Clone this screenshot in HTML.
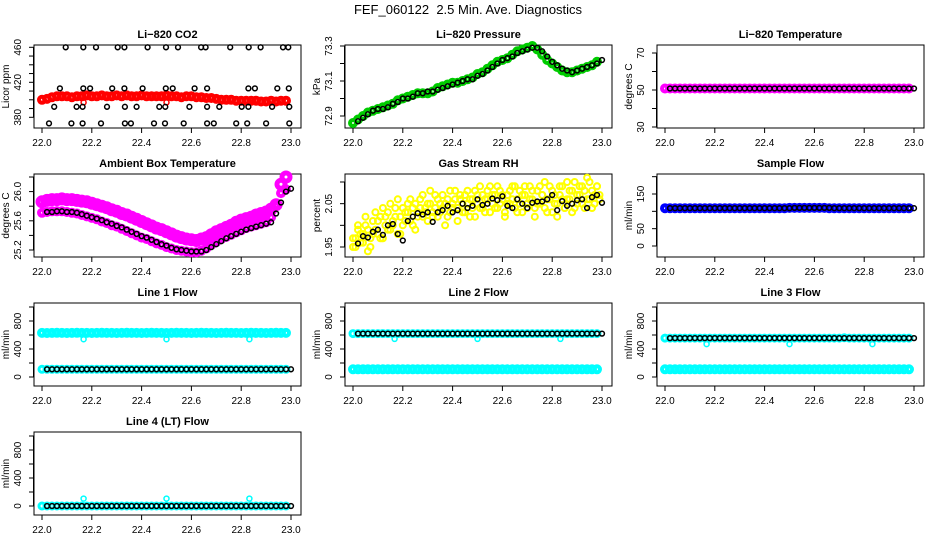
<!DOCTYPE html>
<html><head><meta charset="utf-8">
<style>
html,body{margin:0;padding:0;background:#fff;}
svg{display:block;font-family:"Liberation Sans",sans-serif;}
.t{font-size:11px;font-weight:bold;text-anchor:middle;}
.tk{font-size:10px;text-anchor:middle;}
</style></head>
<body>
<svg id="chart" width="936" height="540" viewBox="0 0 936 540">
<text x="468" y="14" style="font-size:13px;text-anchor:middle">FEF_060122&#160; 2.5 Min. Ave. Diagnostics</text>
</svg>
<script>
// ---- time categories ----
const colorTimes = [22.00,22.02,22.04,22.06,22.08,22.10,22.12,22.14,22.16,22.18,22.20,22.22,22.24,22.26,22.28,22.30,22.32,22.34,22.36,22.38,22.40,22.42,22.44,22.46,22.48,22.50,22.52,22.54,22.56,22.58,22.60,22.62,22.64,22.66,22.68,22.70,22.72,22.74,22.76,22.78,22.80,22.82,22.84,22.86,22.88,22.90,22.92,22.94,22.96,22.98];
const blackTimes = [22.02,22.04,22.06,22.08,22.10,22.12,22.14,22.16,22.18,22.20,22.22,22.24,22.26,22.28,22.30,22.32,22.34,22.36,22.38,22.40,22.42,22.44,22.46,22.48,22.50,22.52,22.54,22.56,22.58,22.60,22.62,22.64,22.66,22.68,22.70,22.72,22.74,22.76,22.78,22.80,22.82,22.84,22.86,22.88,22.90,22.92,22.94,22.96,22.98,23.00];
const outlierTimes = [22.167,22.5,22.833];
const xTicks = [22.0,22.2,22.4,22.6,22.8,23.0];
const xTickLabels = ["22.0","22.2","22.4","22.6","22.8","23.0"];
const yhTimes = [22.00,22.01,22.02,22.03,22.04,22.05,22.06,22.07,22.08,22.09,22.10,22.11,22.12,22.13,22.14,22.15,22.16,22.17,22.18,22.19,22.20,22.21,22.22,22.23,22.24,22.25,22.26,22.27,22.28,22.29,22.30,22.31,22.32,22.33,22.34,22.35,22.36,22.37,22.38,22.39,22.40,22.41,22.42,22.43,22.44,22.45,22.46,22.47,22.48,22.49,22.50,22.51,22.52,22.53,22.54,22.55,22.56,22.57,22.58,22.59,22.60,22.61,22.62,22.63,22.64,22.65,22.66,22.67,22.68,22.69,22.70,22.71,22.72,22.73,22.74,22.75,22.76,22.77,22.78,22.79,22.80,22.81,22.82,22.83,22.84,22.85,22.86,22.87,22.88,22.89,22.90,22.91,22.92,22.93,22.94,22.95,22.96,22.97,22.98,22.99];

// ---- CO2 ----
const co2Red = [400,401,403,404,404,404,403,404,404,405,404,404,405,404,404,405,404,405,404,404,405,404,404,404,404,405,404,404,403,404,404,403,403,402,402,401,400,400,400,399,399,399,399,399,398,398,399,398,399,399];
const co2RedOut = [397,397,397];
const co2BlackTimes = [22.095,22.166,22.217,22.304,22.331,22.424,22.498,22.546,22.639,22.657,22.756,22.830,22.878,22.968,22.989,
 22.072,22.166,22.193,22.282,22.331,22.404,22.497,22.525,22.613,22.663,22.829,22.855,22.945,22.991,
 22.049,22.139,22.163,22.261,22.333,22.380,22.471,22.495,22.592,22.663,22.712,22.802,22.829,22.924,22.993,
 22.028,22.118,22.163,22.237,22.333,22.357,22.450,22.494,22.569,22.663,22.690,22.780,22.824,22.900,22.993];
const co2BlackVals = [460,460,460,460,460,460,460,460,460,460,460,460,460,460,460,
 413,413,413,413,413,413,413,413,413,413,413,413,413,413,
 392,392,392,392,392,392,392,392,392,392,392,392,392,392,392,
 373,373,373,373,373,373,373,373,373,373,373,373,373,373,373];

// ---- Pressure ----
const presGreen = [72.86,72.88,72.90,72.92,72.93,72.94,72.95,72.96,72.97,72.99,73.00,73.01,73.02,73.03,73.03,73.03,73.04,73.06,73.07,73.08,73.09,73.09,73.10,73.11,73.12,73.14,73.15,73.17,73.19,73.21,73.22,73.23,73.25,73.27,73.28,73.29,73.30,73.28,73.25,73.22,73.20,73.18,73.16,73.15,73.15,73.16,73.17,73.18,73.19,73.21];
const presBlack = [72.87,72.89,72.91,72.93,72.94,72.94,72.95,72.97,72.98,73.00,73.00,73.01,73.03,73.03,73.04,73.04,73.05,73.06,73.07,73.08,73.09,73.10,73.11,73.11,73.13,73.14,73.16,73.18,73.20,73.22,73.23,73.24,73.26,73.27,73.28,73.29,73.29,73.27,73.24,73.21,73.19,73.17,73.16,73.15,73.16,73.17,73.18,73.19,73.20,73.22];

// ---- Li-820 Temperature ----
const tempMag = [50.8,50.8,50.8,50.8,50.8,50.8,50.8,50.8,50.8,50.8,50.8,50.8,50.8,50.8,50.8,50.8,50.8,50.8,50.8,50.8,50.8,50.8,50.8,50.8,50.8,50.8,50.8,50.8,50.8,50.8,50.8,50.8,50.8,50.8,50.8,50.8,50.8,50.8,50.8,50.8,50.8,50.8,50.8,50.8,50.8,50.8,50.8,50.8,50.8,50.8];
const tempBlack = [50.8,50.8,50.8,50.8,50.8,50.8,50.8,50.8,50.8,50.8,50.8,50.8,50.8,50.8,50.8,50.8,50.8,50.8,50.8,50.8,50.8,50.8,50.8,50.8,50.8,50.8,50.8,50.8,50.8,50.8,50.8,50.8,50.8,50.8,50.8,50.8,50.8,50.8,50.8,50.8,50.8,50.8,50.8,50.8,50.8,50.8,50.8,50.8,50.8,50.8];

// ---- Ambient Box Temperature ----
const ambMagUpper = [25.86,25.88,25.89,25.89,25.90,25.89,25.89,25.88,25.87,25.86,25.84,25.82,25.80,25.78,25.75,25.73,25.70,25.68,25.65,25.62,25.59,25.56,25.53,25.50,25.48,25.45,25.42,25.39,25.37,25.35,25.34,25.33,25.35,25.37,25.41,25.45,25.48,25.51,25.54,25.58,25.61,25.63,25.65,25.68,25.70,25.72,25.76,25.82,26.10,26.20];
const ambMagLower = [25.71,25.72,25.73,25.73,25.73,25.72,25.71,25.70,25.68,25.66,25.64,25.62,25.59,25.57,25.54,25.52,25.49,25.46,25.43,25.40,25.37,25.35,25.32,25.29,25.27,25.24,25.22,25.20,25.19,25.18,25.17,25.17,25.19,25.22,25.27,25.31,25.35,25.38,25.41,25.44,25.47,25.50,25.52,25.54,25.56,25.58,25.65,25.80,25.98,26.03];
const ambBlack = [25.72,25.72,25.73,25.73,25.72,25.72,25.71,25.69,25.67,25.65,25.63,25.61,25.58,25.56,25.53,25.51,25.48,25.45,25.42,25.39,25.37,25.34,25.31,25.28,25.26,25.23,25.21,25.20,25.19,25.18,25.18,25.18,25.20,25.24,25.28,25.32,25.36,25.39,25.42,25.45,25.48,25.50,25.52,25.54,25.56,25.58,25.70,25.85,26.00,26.04];

// ---- Gas Stream RH ----
const rhYellow = [1.95,1.97,1.99,1.96,1.98,2.00,1.94,1.97,2.01,1.99,1.98,2.02,1.97,2.00,2.03,1.99,2.01,2.04,1.98,2.02,2.00,2.03,2.05,2.01,2.04,1.99,2.03,2.06,2.02,2.04,2.01,2.05,2.03,2.07,2.02,2.05,2.04,2.00,2.06,2.03,2.05,2.08,2.04,2.06,2.03,2.07,2.05,2.02,2.06,2.08,2.05,2.04,2.07,2.03,2.06,2.09,2.05,2.07,2.04,2.08,2.06,2.03,2.07,2.05,2.09,2.04,2.06,2.08,2.03,2.07,2.05,2.09,2.06,2.04,2.08,2.05,2.07,2.10,2.03,2.06,2.08,2.05,2.02,2.07,2.09,2.04,2.06,2.08,2.03,2.10,2.05,2.07,2.09,2.04,2.11,2.06,2.08,2.05,2.09,2.07];
const rhYellow2 = [1.97,1.95,2.00,1.98,1.96,2.02,1.99,1.95,1.98,2.03,2.01,1.97,2.04,2.02,1.99,2.05,2.00,2.02,2.06,1.98,2.04,2.01,2.03,2.06,2.00,2.05,2.02,2.04,2.07,2.03,2.05,2.08,2.02,2.04,2.06,2.03,2.07,2.05,2.02,2.08,2.04,2.06,2.01,2.07,2.05,2.03,2.08,2.06,2.04,2.02,2.07,2.09,2.04,2.06,2.08,2.03,2.07,2.04,2.09,2.05,2.07,2.02,2.05,2.08,2.06,2.09,2.03,2.05,2.07,2.09,2.04,2.06,2.08,2.02,2.05,2.09,2.07,2.04,2.06,2.09,2.03,2.07,2.05,2.09,2.06,2.04,2.10,2.06,2.08,2.04,2.07,2.09,2.05,2.08,2.06,2.10,2.04,2.07,2.09,2.06];
const rhBlack = [1.958,1.975,1.972,1.985,1.990,1.978,2.000,2.003,1.980,1.965,2.010,2.020,2.028,2.025,2.030,2.008,2.030,2.035,2.045,2.030,2.035,2.050,2.040,2.045,2.060,2.047,2.050,2.062,2.058,2.067,2.045,2.040,2.060,2.050,2.040,2.052,2.055,2.055,2.060,2.070,2.035,2.056,2.045,2.050,2.058,2.060,2.040,2.065,2.070,2.052];

// ---- Sample Flow ----
const sampleBlue = [109,109,109,109,109,109,109,109,109,109,109,109,109,109,109,109,109,109,109,109,109,109,109,109,109,110,110,110,110,110,110,110,110,109,109,109,109,109,109,109,109,109,109,109,109,109,109,109,109,109];
const sampleBlack = [109,109,109,109,109,109,109,109,109,109,109,109,109,109,109,109,109,109,109,109,109,109,109,109,109,110,110,110,110,110,110,110,110,109,109,109,109,109,109,109,109,109,109,109,109,109,109,109,109,109];

// ---- Line flows ----
const line1CyanTop = [630,628,630,632,630,628,630,632,630,630,628,630,632,630,630,628,630,632,630,630,628,630,632,630,630,628,630,632,630,630,628,630,632,630,630,628,630,632,630,630,628,630,632,630,630,628,630,632,630,630];
const line1CyanLow = [110,110,110,110,110,110,110,110,110,110,110,110,110,110,110,110,110,110,110,110,110,110,110,110,110,110,110,110,110,110,110,110,110,110,110,110,110,110,110,110,110,110,110,110,110,110,110,110,110,110];
const line1Black = [110,110,110,110,110,110,110,110,110,110,110,110,110,110,110,110,110,110,110,110,110,110,110,110,110,110,110,110,110,110,110,110,110,110,110,110,110,110,110,110,110,110,110,110,110,110,110,110,110,110];
const line1Out = [540,540,540];
const line2CyanTop = [620,620,620,620,620,620,620,620,620,620,620,620,620,620,620,620,620,620,620,620,620,620,620,620,620,620,620,620,620,620,620,620,620,620,620,620,620,620,620,620,620,620,620,620,620,620,620,620,620,620];
const line2CyanLow = [110,110,110,110,110,110,110,110,110,110,110,110,110,110,110,110,110,110,110,110,110,110,110,110,110,110,110,110,110,110,110,110,110,110,110,110,110,110,110,110,110,110,110,110,110,110,110,110,110,110];
const line2Black = [620,620,620,620,620,620,620,620,620,620,620,620,620,620,620,620,620,620,620,620,620,620,620,620,620,620,620,620,620,620,620,620,620,620,620,620,620,620,620,620,620,620,620,620,620,620,620,620,620,620];
const line2Out = [545,545,545];
const line3CyanTop = [555,555,555,555,555,555,555,555,555,555,555,555,555,555,555,555,555,555,555,555,555,555,555,555,555,555,555,555,555,555,555,555,555,555,555,555,560,555,555,555,555,555,555,555,555,555,555,555,555,555];
const line3CyanLow = [110,110,110,110,110,110,110,110,110,110,110,110,110,110,110,110,110,110,110,110,110,110,110,110,110,110,110,110,110,110,110,110,110,110,110,110,110,110,110,110,110,110,110,110,110,110,110,110,110,110];
const line3Black = [555,555,555,555,555,555,555,555,555,555,555,555,555,555,555,555,555,555,555,555,555,555,555,555,555,555,555,555,555,555,555,555,555,555,555,555,555,555,555,555,555,555,555,555,555,555,555,555,555,555];
const line3Out = [470,470,470];
const line4Cyan = [0,0,0,0,0,0,0,0,0,0,0,0,0,0,0,0,0,0,0,0,0,0,0,0,0,0,0,0,0,0,0,0,0,0,0,0,0,0,0,0,0,0,0,0,0,0,0,0,0,0];
const line4Black = [0,0,0,0,0,0,0,0,0,0,0,0,0,0,0,0,0,0,0,0,0,0,0,0,0,0,0,0,0,0,0,0,0,0,0,0,0,0,0,0,0,0,0,0,0,0,0,0,0,0];
const line4Out = [105,105,105];

const flowTicks = [0,200,400,600,800,1000];
const flowLabels = ["0","","400","","800",""];

const NS = "http://www.w3.org/2000/svg";
const svg = document.getElementById('chart');
function mk(tag, attrs, parent) {
  const e = document.createElementNS(NS, tag);
  for (const k in attrs) e.setAttribute(k, attrs[k]);
  (parent || svg).appendChild(e);
  return e;
}
const colX = [34, 345, 657], rowY = [45, 174, 303, 432], W = 267, H = 83;

function makePanel(id, col, row, title, ylab, yA, pA, yB, pB, yTicks, yLabels) {
  const L = colX[col], T = rowY[row];
  const g = mk('g', {});
  
  
  const xs = t => L + 8 + (t - 22) * 249;
  const ys = v => T + pA + (v - yA) / (yB - yA) * (pB - pA);
  const tt = mk('text', {x: L + W / 2, y: T - 7, class: 't'}, g);
  tt.textContent = title;
  
  
  const box = mk('rect', {x: L, y: T, width: W, height: H, fill: 'none', stroke: '#000', 'stroke-width': 1}, g);
  
  
  const xa = mk('g', {}, g);
  
  
  xTicks.forEach((t, i) => {
    mk('line', {x1: xs(t), x2: xs(t), y1: T + H, y2: T + H + 5, stroke: '#000'}, xa);
    const lb = mk('text', {x: xs(t), y: T + H + 18, class: 'tk'}, xa);
    lb.textContent = xTickLabels[i];
    
    
  });
  const ya = mk('g', {}, g);
  
  
  mk('line', {x1: L - 0.5, x2: L - 0.5, y1: ys(yTicks[0]), y2: ys(yTicks[yTicks.length - 1]), stroke: '#000'}, ya);
  yTicks.forEach((v, i) => {
    mk('line', {x1: L - 5, x2: L, y1: ys(v), y2: ys(v), stroke: '#000'}, ya);
    if (yLabels[i]) {
      const lb = mk('text', {x: 0, y: 0, class: 'tk', transform: `translate(${L - 13},${ys(v)}) rotate(-90)`}, ya);
      lb.textContent = yLabels[i];
      
      
    }
  });
  const yt = mk('text', {x: 0, y: 0, class: 'tk', transform: `translate(${L - 25},${T + H / 2}) rotate(-90)`}, ya);
  yt.textContent = ylab;
  
  
  return {g, xs, ys};
}

function series(p, name, times, vals, color, r, sw) {
  const sg = mk('g', {fill: 'none', stroke: color, 'stroke-width': sw}, p.g);
  
  
  for (let i = 0; i < vals.length; i++) {
    const c = mk('circle', {cx: p.xs(times[i]).toFixed(1), cy: p.ys(vals[i]).toFixed(1), r: r}, sg);
    
    
  }
}

let p = makePanel('co2', 0, 0, 'Li\u2212820 CO2', 'Licor ppm', 460, 2.3, 380, 72.3,
  [380,390,400,410,420,430,440,450,460], ["380","","","","420","","","","460"]);
series(p, 'co2-red-series', colorTimes, co2Red, '#f00', 3, 4);
series(p, 'co2-red-outliers', outlierTimes, co2RedOut, '#f00', 2.5, 1.5);
series(p, 'co2-black-series', co2BlackTimes, co2BlackVals, '#000', 2.4, 1.5);

p = makePanel('pressure', 1, 0, 'Li\u2212820 Pressure', 'kPa', 73.3, 1, 72.9, 71,
  [72.9,73.0,73.1,73.2,73.3], ["72.9","","73.1","","73.3"]);
series(p, 'pressure-green-series', colorTimes, presGreen, '#0c0', 3, 4);
series(p, 'pressure-black-series', blackTimes, presBlack, '#000', 2.4, 1.5);

p = makePanel('li820-temp', 2, 0, 'Li\u2212820 Temperature', 'degrees C', 70, 8, 30, 82,
  [30,40,50,60,70], ["30","","50","","70"]);
series(p, 'li820-temp-magenta-series', colorTimes, tempMag, '#f0f', 3, 4);
series(p, 'li820-temp-black-series', blackTimes, tempBlack, '#000', 2.4, 1.5);

p = makePanel('ambient-temp', 0, 1, 'Ambient Box Temperature', 'degrees C', 26.2, 3, 25.2, 76,
  [25.2,25.4,25.6,25.8,26.0,26.2], ["25.2","","25.6","","26.0",""]);
series(p, 'ambient-magenta-upper', colorTimes, ambMagUpper, '#f0f', 4, 5);
series(p, 'ambient-magenta-lower', colorTimes, ambMagLower, '#f0f', 3, 4);
series(p, 'ambient-black-series', blackTimes, ambBlack, '#000', 2.4, 1.5);

p = makePanel('rh', 1, 1, 'Gas Stream RH', 'percent', 2.10, 8, 1.95, 73,
  [1.95,2.00,2.05,2.10], ["1.95","","2.05",""]);
series(p, 'rh-yellow-series', yhTimes, rhYellow, '#ff0', 3, 2);
series(p, 'rh-yellow-series-2', yhTimes, rhYellow2, '#ff0', 3, 2);
series(p, 'rh-black-series', blackTimes, rhBlack, '#000', 2.4, 1.5);

p = makePanel('sample-flow', 2, 1, 'Sample Flow', 'ml/min', 150, 20, 0, 72,
  [0,50,100,150,200], ["0","50","","150",""]);
series(p, 'sample-blue-series', colorTimes, sampleBlue, '#00f', 3, 4);
series(p, 'sample-black-series', blackTimes, sampleBlack, '#000', 2.4, 1.5);

p = makePanel('line1-flow', 0, 2, 'Line 1 Flow', 'ml/min', 1000, 4, 0, 74, flowTicks, flowLabels);
series(p, 'line1-cyan-top', colorTimes, line1CyanTop, '#0ff', 3, 4);
series(p, 'line1-cyan-low', colorTimes, line1CyanLow, '#0ff', 3, 3);
series(p, 'line1-cyan-outliers', outlierTimes, line1Out, '#0ff', 2.5, 1.5);
series(p, 'line1-black-series', blackTimes, line1Black, '#000', 2.4, 1.5);

p = makePanel('line2-flow', 1, 2, 'Line 2 Flow', 'ml/min', 1000, 4, 0, 74, flowTicks, flowLabels);
series(p, 'line2-cyan-top', colorTimes, line2CyanTop, '#0ff', 3, 3);
series(p, 'line2-cyan-low', colorTimes, line2CyanLow, '#0ff', 3, 4);
series(p, 'line2-cyan-outliers', outlierTimes, line2Out, '#0ff', 2.5, 1.5);
series(p, 'line2-black-series', blackTimes, line2Black, '#000', 2.4, 1.5);

p = makePanel('line3-flow', 2, 2, 'Line 3 Flow', 'ml/min', 1000, 4, 0, 74, flowTicks, flowLabels);
series(p, 'line3-cyan-top', colorTimes, line3CyanTop, '#0ff', 3, 3);
series(p, 'line3-cyan-low', colorTimes, line3CyanLow, '#0ff', 3, 4);
series(p, 'line3-cyan-outliers', outlierTimes, line3Out, '#0ff', 2.5, 1.5);
series(p, 'line3-black-series', blackTimes, line3Black, '#000', 2.4, 1.5);

p = makePanel('line4-flow', 0, 3, 'Line 4 (LT) Flow', 'ml/min', 1000, 4, 0, 74, flowTicks, flowLabels);
series(p, 'line4-cyan-series', colorTimes, line4Cyan, '#0ff', 3, 3);
series(p, 'line4-cyan-outliers', outlierTimes, line4Out, '#0ff', 2.5, 1.5);
series(p, 'line4-black-series', blackTimes, line4Black, '#000', 2.4, 1.5);
</script>
</body></html>
